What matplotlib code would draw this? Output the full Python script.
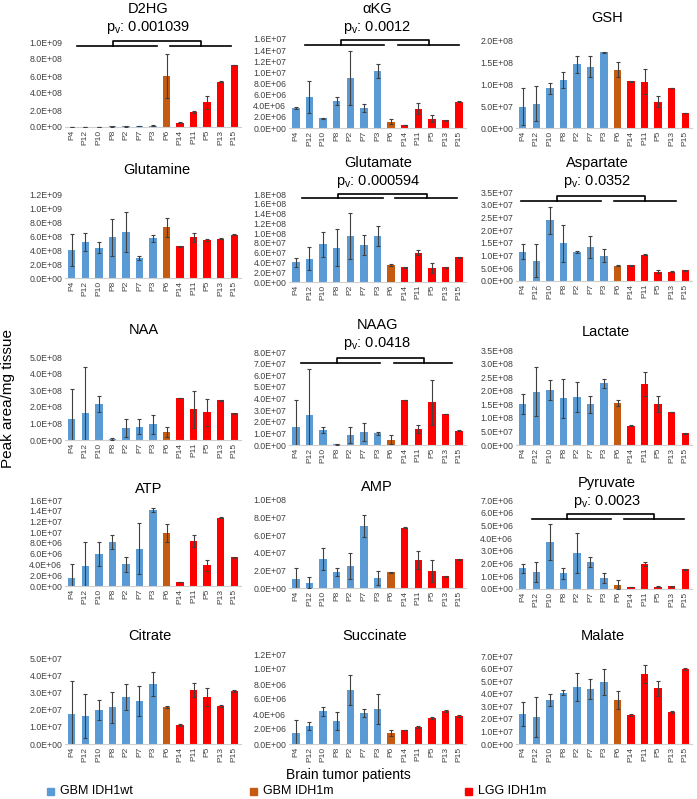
import numpy as np
import matplotlib.pyplot as plt
from matplotlib.patches import Rectangle

plt.rcParams['font.family'] = ['Liberation Sans', 'DejaVu Sans']

patients = ["P4", "P12", "P10", "P8", "P2", "P7", "P3", "P6", "P14", "P11", "P5", "P13", "P15"]
group_of = [0, 0, 0, 0, 0, 0, 0, 1, 2, 2, 2, 2, 2]
group_names = ["GBM IDH1wt", "GBM IDH1m", "LGG IDH1m"]
group_colors = ["#5B9BD5", "#C55A11", "#FF0000"]

# mean and error per metabolite
d2hg = [2e6, 3e6, 3e6, 8e6, 1.0e7, 1.2e7, 1.5e7, 6.0e8, 5.0e7, 1.75e8, 2.9e8, 5.33e8, 7.3e8]
d2hg_err = [2e6, 2e6, 2e6, 4e6, 5e6, 5e6, 5e6, 2.55e8, 5e6, 1e7, 8e7, 5e6, 5e6]
akg = [3.6e6, 5.57e6, 1.74e6, 4.8e6, 9.0e6, 3.6e6, 10.2e6, 1.14e6, 0.54e6, 3.5e6, 1.7e6, 1.38e6, 4.7e6]
akg_err = [0.15e6, 2.8e6, 0.1e6, 0.75e6, 4.9e6, 0.7e6, 1.3e6, 0.5e6, 0.05e6, 1.0e6, 0.65e6, 0.1e6, 0.1e6]
gsh = [0.48e8, 0.55e8, 0.9e8, 1.1e8, 1.445e8, 1.39e8, 1.72e8, 1.32e8, 1.065e8, 1.05e8, 0.6e8, 0.905e8, 0.34e8]
gsh_err = [0.42e8, 0.4e8, 0.13e8, 0.18e8, 0.19e8, 0.24e8, 0.01e8, 0.17e8, 0.01e8, 0.28e8, 0.12e8, 0.005e8, 0.01e8]
glutamine = [0.405e9, 0.514e9, 0.433e9, 0.58e9, 0.657e9, 0.286e9, 0.571e9, 0.724e9, 0.452e9, 0.58e9, 0.543e9, 0.562e9, 0.62e9]
glutamine_err = [0.23e9, 0.13e9, 0.08e9, 0.27e9, 0.28e9, 0.03e9, 0.05e9, 0.14e9, 0.01e9, 0.06e9, 0.02e9, 0.01e9, 0.01e9]
glutamate = [0.4e8, 0.48e8, 0.77e8, 0.7e8, 0.95e8, 0.755e8, 0.94e8, 0.35e8, 0.3e8, 0.6e8, 0.29e8, 0.3e8, 0.51e8]
glutamate_err = [0.1e8, 0.23e8, 0.26e8, 0.38e8, 0.47e8, 0.21e8, 0.2e8, 0.02e8, 0.005e8, 0.05e8, 0.1e8, 0.005e8, 0.01e8]
aspartate = [1.16e7, 0.8e7, 2.38e7, 1.48e7, 1.14e7, 1.34e7, 0.99e7, 0.6e7, 0.61e7, 1.04e7, 0.37e7, 0.37e7, 0.43e7]
aspartate_err = [0.3e7, 0.64e7, 0.52e7, 0.73e7, 0.04e7, 0.42e7, 0.25e7, 0.02e7, 0.02e7, 0.03e7, 0.07e7, 0.01e7, 0.02e7]
naa = [1.28e8, 1.6e8, 2.16e8, 0.06e8, 0.74e8, 0.8e8, 0.94e8, 0.48e8, 2.54e8, 1.84e8, 1.68e8, 2.38e8, 1.6e8]
naa_err = [1.8e8, 2.8e8, 0.5e8, 0.04e8, 0.54e8, 0.44e8, 0.56e8, 0.3e8, 0.02e8, 1.1e8, 0.82e8, 0.02e8, 0.02e8]
naag = [1.51e7, 2.54e7, 1.29e7, 0.06e7, 0.86e7, 1.09e7, 1.0e7, 0.46e7, 3.86e7, 1.4e7, 3.66e7, 2.66e7, 1.23e7]
naag_err = [2.4e7, 4.0e7, 0.28e7, 0.03e7, 0.68e7, 0.77e7, 0.1e7, 0.4e7, 0.03e7, 0.34e7, 1.97e7, 0.03e7, 0.02e7]
lactate = [1.52e8, 1.97e8, 2.03e8, 1.72e8, 1.76e8, 1.5e8, 2.27e8, 1.55e8, 0.71e8, 2.25e8, 1.51e8, 1.22e8, 0.43e8]
lactate_err = [0.37e8, 0.89e8, 0.37e8, 0.72e8, 0.55e8, 0.32e8, 0.16e8, 0.1e8, 0.01e8, 0.45e8, 0.31e8, 0.01e8, 0.01e8]
atp = [1.56e6, 3.74e6, 5.98e6, 8.16e6, 4.05e6, 6.97e6, 14.07e6, 9.78e6, 0.75e6, 8.34e6, 3.86e6, 12.7e6, 5.35e6]
atp_err = [2.55e6, 4.36e6, 2.24e6, 1.3e6, 1.43e6, 4.67e6, 0.38e6, 1.68e6, 0.05e6, 1.12e6, 1.0e6, 0.05e6, 0.05e6]
amp = [1.06e7, 0.6e7, 3.28e7, 1.81e7, 2.49e7, 7.06e7, 1.13e7, 1.77e7, 6.87e7, 3.17e7, 1.89e7, 1.32e7, 3.25e7]
amp_err = [1.2e7, 0.6e7, 1.25e7, 0.45e7, 1.5e7, 1.24e7, 0.76e7, 0.05e7, 0.05e7, 1.06e7, 1.24e7, 0.05e7, 0.05e7]
pyruvate = [1.63e6, 1.31e6, 3.67e6, 1.23e6, 2.83e6, 2.12e6, 0.87e6, 0.34e6, 0.16e6, 1.99e6, 0.16e6, 0.21e6, 1.57e6]
pyruvate_err = [0.34e6, 0.79e6, 1.42e6, 0.45e6, 1.55e6, 0.4e6, 0.36e6, 0.37e6, 0.03e6, 0.16e6, 0.04e6, 0.03e6, 0.04e6]
citrate = [1.74e7, 1.63e7, 1.98e7, 2.15e7, 2.73e7, 2.5e7, 3.5e7, 2.15e7, 1.1e7, 3.14e7, 2.73e7, 2.2e7, 3.08e7]
citrate_err = [1.9e7, 1.3e7, 0.6e7, 0.9e7, 0.75e7, 0.9e7, 0.7e7, 0.05e7, 0.05e7, 0.4e7, 0.5e7, 0.05e7, 0.05e7]
succinate = [1.47e6, 2.4e6, 4.4e6, 3.07e6, 7.2e6, 4.13e6, 4.67e6, 1.47e6, 1.87e6, 2.27e6, 3.47e6, 4.4e6, 3.73e6]
succinate_err = [1.7e6, 0.5e6, 0.6e6, 1.2e6, 2.0e6, 0.5e6, 2.0e6, 0.4e6, 0.05e6, 0.1e6, 0.1e6, 0.1e6, 0.1e6]
malate = [2.39e7, 2.15e7, 3.5e7, 4.06e7, 4.53e7, 4.37e7, 4.93e7, 3.5e7, 2.3e7, 5.57e7, 4.45e7, 2.55e7, 5.97e7]
malate_err = [0.95e7, 1.6e7, 0.5e7, 0.2e7, 1.1e7, 0.8e7, 1.0e7, 0.7e7, 0.05e7, 0.7e7, 0.6e7, 0.05e7, 0.05e7]

names = ["D2HG", "\u03b1KG", "GSH", "Glutamine", "Glutamate", "Aspartate", "NAA", "NAAG", "Lactate",
         "ATP", "AMP", "Pyruvate", "Citrate", "Succinate", "Malate"]
values = [d2hg, akg, gsh, glutamine, glutamate, aspartate, naa, naag, lactate,
          atp, amp, pyruvate, citrate, succinate, malate]
errors = [d2hg_err, akg_err, gsh_err, glutamine_err, glutamate_err, aspartate_err, naa_err, naag_err,
          lactate_err, atp_err, amp_err, pyruvate_err, citrate_err, succinate_err, malate_err]
ymax = [1e9, 1.6e7, 2e8, 1.2e9, 1.8e8, 3.5e7, 5e8, 8e7, 3.5e8, 1.6e7, 1e8, 7e6, 5e7, 1.2e7, 7e7]
ystep = [2e8, 2e6, 5e7, 2e8, 2e7, 5e6, 1e8, 1e7, 5e7, 2e6, 2e7, 1e6, 1e7, 2e6, 1e7]
pvalues = {"D2HG": "0.001039", "\u03b1KG": "0.0012", "Glutamate": "0.000594",
           "Aspartate": "0.0352", "NAAG": "0.0418", "Pyruvate": "0.0023"}

# layout in pixels
W, H = 697, 799
col_lr = [(65, 241), (289, 466), (516, 692)]
panel_tb = [(42, 127), (39, 128), (40, 128),
            (194, 278), (194, 282), (192, 281),
            (357, 440), (352, 445), (350, 445),
            (500, 586), (500, 588), (500, 589),
            (658, 744), (654, 744), (656, 744)]
title_xy = [(148, 9), (377, 9), (607, 18),
            (157, 170), (378, 163), (597, 163),
            (144, 330), (377, 325), (606, 332),
            (149, 489), (377, 487), (607, 483),
            (150, 636), (375, 636), (603, 636)]
pv_y = {"D2HG": 27, "\u03b1KG": 27, "Glutamate": 182, "Aspartate": 182, "NAAG": 343, "Pyruvate": 502}
# bracket: x1a, x1b, x2a, x2b, xc1, xc2 (bar index units), y line, y top (axes fraction)
brackets = {"D2HG": (0.4, 6.3, 7.25, 11.75, 3.05, 9.55, 0.95, 1.01),
            "\u03b1KG": (0.65, 6.5, 7.5, 11.95, 3.35, 9.8, 0.93, 0.99),
            "Glutamate": (0.45, 6.4, 7.3, 11.85, 3.1, 9.6, 0.955, 1.0),
            "Aspartate": (-0.15, 5.8, 6.75, 11.3, 2.5, 9.05, 0.9, 0.96),
            "NAAG": (0.35, 6.2, 7.2, 11.5, 3.0, 9.4, 0.88, 0.935),
            "Pyruvate": (0.65, 6.5, 7.45, 11.9, 3.3, 9.7, 0.79, 0.84)}


def sci(v):
    if v == 0:
        return "0.0E+00"
    e = int(np.floor(np.log10(v) + 1e-9))
    return f"{v / 10**e:.1f}E+{e:02d}"


fig = plt.figure(figsize=(W / 100, H / 100), dpi=100)
x = np.arange(len(patients))
colors = [group_colors[g] for g in group_of]

for i, name in enumerate(names):
    l, r = col_lr[i % 3]
    t, b = panel_tb[i]
    ax = fig.add_axes([l / W, 1 - b / H, (r - l) / W, (b - t) / H])
    ax.bar(x, values[i], width=0.55, color=colors, zorder=2)
    ax.errorbar(x, values[i], yerr=errors[i], fmt="none", ecolor="#404040",
                elinewidth=0.8, capsize=1.3, capthick=0.8, zorder=3)
    ax.set_xlim(-0.5, len(patients) - 0.5)
    ax.set_ylim(0, ymax[i])
    ticks = np.arange(0, ymax[i] + ystep[i] / 2, ystep[i])
    ax.set_yticks(ticks)
    ax.set_yticklabels([sci(v) for v in ticks], fontsize=6.3, color="#404040")
    ax.set_xticks(x)
    ax.set_xticklabels(patients, rotation=90, fontsize=6, color="#404040")
    ax.tick_params(length=0, pad=2)
    for s in ["top", "right", "left"]:
        ax.spines[s].set_visible(False)
    ax.spines["bottom"].set_color("#d0d0d0")
    ax.spines["bottom"].set_linewidth(0.8)

    tx, ty = title_xy[i]
    fig.text(tx / W, 1 - ty / H, name, ha="center", va="center", fontsize=10.5)
    if name in pvalues:
        fig.text(tx / W, 1 - pv_y[name] / H, "p$_\\mathregular{v}$: " + pvalues[name],
                 ha="center", va="center", fontsize=10.5)
        x1a, x1b, x2a, x2b, xc1, xc2, yl, yt = brackets[name]
        tr = ax.get_xaxis_transform()
        kw = dict(color="black", lw=1.2, transform=tr, clip_on=False, zorder=4)
        ax.plot([x1a, x1b], [yl, yl], **kw)
        ax.plot([x2a, x2b], [yl, yl], **kw)
        ax.plot([xc1, xc1, xc2, xc2], [yl, yt, yt, yl], **kw)

fig.text(8 / W, 1 - 399 / H, "Peak area/mg tissue", rotation=90, ha="center", va="center", fontsize=11)
fig.text(348 / W, 1 - 775 / H, "Brain tumor patients", ha="center", va="center", fontsize=10)

legend_x = [47, 250, 465]
for gx, gname, gc in zip(legend_x, group_names, group_colors):
    fig.add_artist(Rectangle((gx / W, 1 - 795 / H), 7 / W, 7 / H, color=gc, transform=fig.transFigure))
    fig.text((gx + 13) / W, 1 - 791.5 / H, gname, ha="left", va="center", fontsize=9)

fig.savefig("out.png", dpi=100)
